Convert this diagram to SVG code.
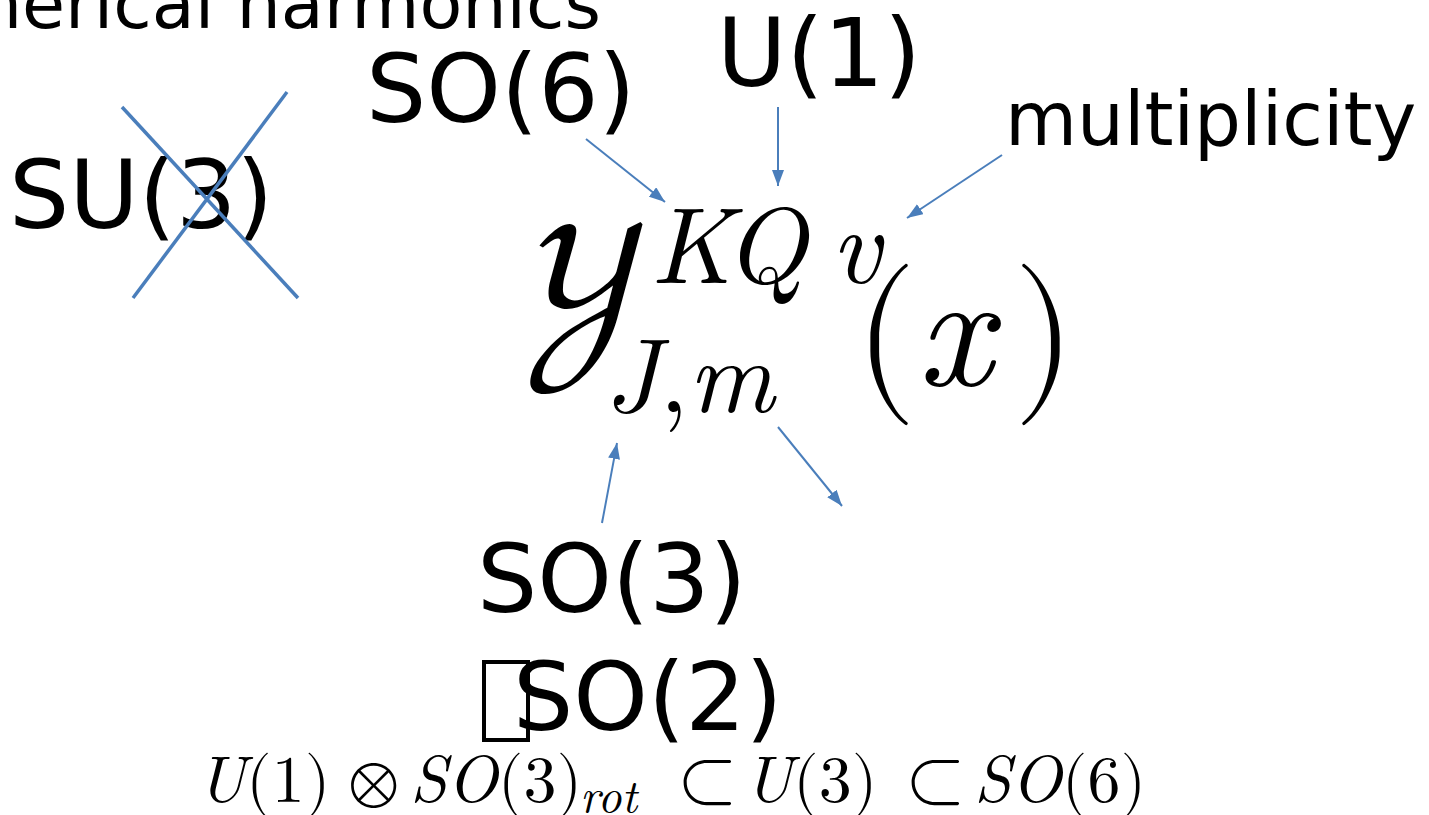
<svg xmlns="http://www.w3.org/2000/svg" width="1429" height="815" viewBox="0 0 1429 815">
<style>
.lbl{font-family:"DejaVu Sans",sans-serif;fill:#000}
.math{font-family:"Latin Modern Math","DejaVu Serif","Liberation Serif",serif;fill:#000}
.it{font-family:"Latin Modern Roman","Latin Modern Math","DejaVu Serif","Liberation Serif",serif;font-style:italic}
.conn line{stroke:#4a7ebb;stroke-width:2;fill:none}
.cross line{stroke:#4a7ebb;stroke-width:3.5}
</style>
<defs>
<marker id="ah" viewBox="0 0 16 12" refX="16" refY="6" markerWidth="16" markerHeight="12" markerUnits="userSpaceOnUse" orient="auto">
<path d="M0,0 L16,6 L0,12 Z" fill="#4a7ebb"/>
</marker>
</defs>
<rect width="1429" height="815" fill="#fff"/>
<g id="title"><text class="lbl" x="601" y="28" font-size="70" text-anchor="end">spherical harmonics</text></g>
<g id="so6"><text class="lbl" x="366" y="122" font-size="95">SO(6)</text></g>
<g id="u1"><text class="lbl" x="717" y="86" font-size="95">U(1)</text></g>
<g id="multiplicity"><text class="lbl" x="1005" y="145" font-size="74">multiplicity</text></g>
<g id="su3">
<text class="lbl" x="9" y="228" font-size="95">SU(3)</text>
<g class="cross"><line x1="122" y1="107" x2="298" y2="298"/><line x1="287" y1="92" x2="133" y2="298"/></g>
</g>
<g id="so3"><text class="lbl" x="477" y="612" font-size="95">SO(3)</text></g>
<g id="so2">
<rect x="484" y="662" width="44" height="78" fill="none" stroke="#000" stroke-width="4"/>
<text class="lbl" x="513" y="730" font-size="95">SO(2)</text>
</g>
<g id="formula">
<text class="math" x="522" y="366" font-size="205">𝒴</text>
<text class="math it" x="650" y="283" font-size="108">K<tspan x="724">Q</tspan><tspan x="831">v</tspan></text>
<text class="math it" x="604" y="412" font-size="105">J<tspan font-style="normal">,</tspan>m</text>
<text class="math" x="854" y="385" font-size="162">(<tspan class="it">x</tspan><tspan x="1013">)</tspan></text>
</g>
<g id="chain">
<text class="math" y="802" font-size="66"><tspan class="it" x="197">U</tspan><tspan>(1)</tspan><tspan x="348">⊗</tspan><tspan class="it" x="410">SO</tspan><tspan>(3)</tspan><tspan class="it" font-size="47" x="580" y="812">rot</tspan><tspan x="677" y="802" font-size="78">⊂</tspan><tspan class="it" x="744">U</tspan><tspan>(3)</tspan><tspan x="905" font-size="78">⊂</tspan><tspan class="it" x="974">SO</tspan><tspan>(6)</tspan></text>
</g>
<g class="conn" id="connectors">
<line x1="586" y1="139" x2="665" y2="202" marker-end="url(#ah)"/>
<line x1="778" y1="107" x2="778" y2="186" marker-end="url(#ah)"/>
<line x1="1002" y1="155" x2="907" y2="218" marker-end="url(#ah)"/>
<line x1="778" y1="427" x2="842" y2="506" marker-end="url(#ah)"/>
<line x1="602" y1="523" x2="617" y2="443" marker-end="url(#ah)"/>
</g>
</svg>
